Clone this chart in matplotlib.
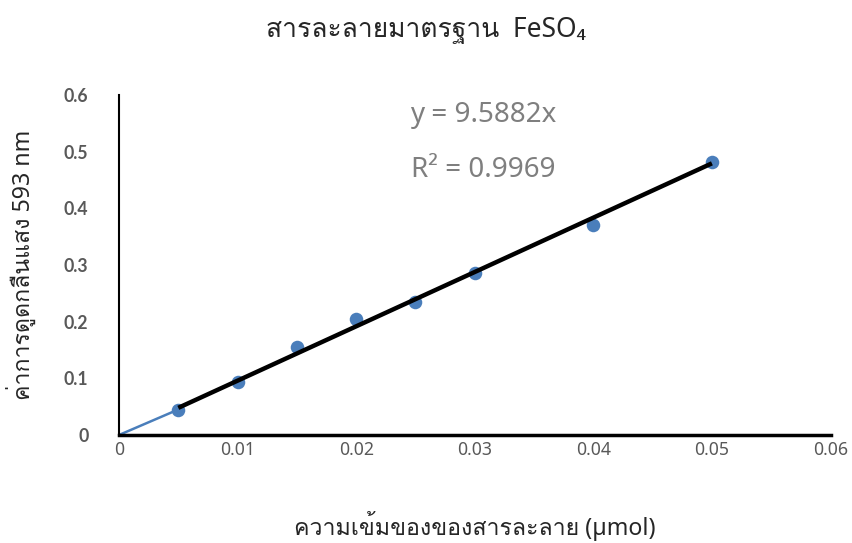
import matplotlib
matplotlib.use('Agg')
import matplotlib.pyplot as plt
from matplotlib import font_manager
from matplotlib.ft2font import FT2Font

# FeSO4 standard curve
conc = [0.005, 0.01, 0.015, 0.02, 0.025, 0.03, 0.04, 0.05]
absorb = [0.045, 0.094, 0.156, 0.204, 0.235, 0.286, 0.371, 0.481]
slope = 9.5882
r2 = 0.9969
xticks = [0, 0.01, 0.02, 0.03, 0.04, 0.05, 0.06]
yticks = [0, 0.1, 0.2, 0.3, 0.4, 0.5, 0.6]

# pick any installed font that has Thai glyphs
thai = None
for f in font_manager.fontManager.ttflist:
    try:
        if 0x0E2A in FT2Font(f.fname).get_charmap():
            thai = f.name
            break
    except Exception:
        pass
fam = ['Noto Sans'] + ([thai] if thai else []) + ['DejaVu Sans']
plt.rcParams['font.family'] = fam

fig = plt.figure(figsize=(8.52, 5.43), dpi=100)
ax = fig.add_axes([119/852, 108/543, 711.5/852, 340/543])

# line from origin to first point
ax.plot([0, conc[0]], [0, absorb[0]], color='#4a7ebb', lw=1.8, zorder=2)
ax.scatter(conc, absorb, s=95, color='#4a7ebb', zorder=3, linewidths=0)
# linear trendline through zero
ax.plot([conc[0], conc[-1]], [slope*conc[0], slope*conc[-1]], color='black',
        lw=3.2, zorder=4, solid_capstyle='butt')

ax.set_xlim(0, 0.06)
ax.set_ylim(0, 0.6)
ax.set_xticks(xticks)
ax.set_yticks(yticks)
ax.set_xticklabels([f'{v:g}' for v in xticks])
ax.set_yticklabels([f'{v:g}' for v in yticks], family='Lato', fontweight='bold',
                   fontsize=13.5)
ax.tick_params(length=0, colors='#595959', labelsize=12.7)
ax.tick_params(axis='x', pad=4)
ax.tick_params(axis='y', pad=22)
for s in ['top', 'right']:
    ax.spines[s].set_visible(False)
ax.spines['left'].set_linewidth(1.5)
ax.spines['bottom'].set_linewidth(2.5)

ax.text(0.0307, 0.565, f'y = {slope}x', fontsize=20, color='#7f7f7f', ha='center', va='center')
ax.text(0.0307, 0.468, f'R² = {r2}', fontsize=20, color='#7f7f7f', ha='center', va='center')

fig.text(0.5, 0.945, 'สารละลายมาตรฐาน  FeSO₄', fontsize=19, color='#262626',
         ha='center', va='center')
ax.set_xlabel('ความเข้มของของสารละลาย (µmol)', fontsize=16.7, color='#262626', labelpad=38)
ax.set_ylabel('ค่าการดูดกลืนแสง 593 nm', fontsize=16.7, color='#262626', labelpad=20)

fig.savefig('out.png', dpi=100, facecolor='white')
